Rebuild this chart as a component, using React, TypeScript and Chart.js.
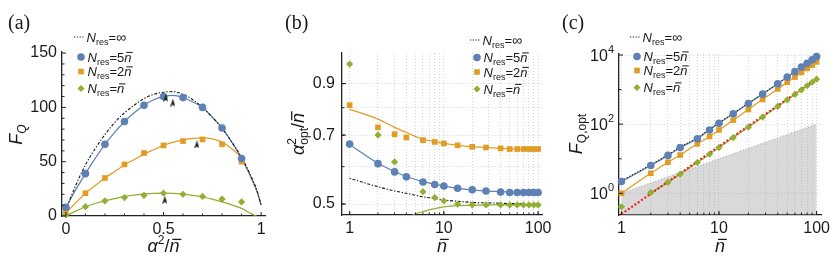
import React, { useEffect, useRef } from 'react';
import { Chart, registerables } from 'chart.js';
Chart.register(...registerables);

const BLUE = '#5E81B5';
const ORANGE = '#E19C24';
const GREEN = '#8FB032';
const BLACK = '#1a1a1a';
const RED = '#E8231E';
const AX = '#222222';
const TXT = '#1a1a1a';
const GRID = '#d4d4d4';
const SANS = '"Liberation Sans", Arial, sans-serif';
const SERIF = '"Liberation Serif", "DejaVu Serif", serif';

// ---------- Panel (a) ----------
const aPointX = [0, 0.1, 0.2, 0.3, 0.4, 0.5, 0.6, 0.7, 0.8, 0.9];
const aBluePts = [8, 39, 66, 87, 102, 110, 109, 100, 81, 53];
const aOrangePts = [4.5, 21, 35, 47.5, 58, 65, 69, 70.5, 66, 50];
const aGreenPts = [1, 8.6, 14, 17, 19, 21, 20, 18, 15.6, 13];

const aCurveX = [0, 0.05, 0.1, 0.15, 0.2, 0.25, 0.3, 0.35, 0.4, 0.45, 0.5, 0.55, 0.6, 0.65, 0.7, 0.75, 0.8, 0.85, 0.9, 0.95, 0.98, 1];
const aInfCurve = [6, 28, 47, 62, 75, 86, 95, 102, 108, 112, 114, 114.5, 112, 107, 100, 91, 81, 68, 54, 36, 23, 10];
const aBlueCurve = [8, 24, 39, 53, 66, 77, 87, 95, 102, 107, 110, 111, 109, 105, 100, 91, 81, 68, 53, 35, 22, 10];
const aOrangeCurve = [3, 12, 21, 28, 35, 41, 47, 52, 57, 61, 65, 68, 70, 71.5, 72, 71, 68, 62, 53, 35, 22, 10];
const aGreenCurve = [0, 4.5, 8.5, 11.5, 14, 16, 18, 19.3, 20.3, 20.8, 21, 20.8, 20.2, 19, 17.5, 15.5, 13, 10.2, 7, 2.2, -0.6, -2];

const aArrowX = [0.512, 0.548, 0.671, 0.507];
const aArrowY = [109, 104.5, 66, 15];

const aXTicks = [0, 0.5, 1];
const aYTicks = [0, 50, 100, 150];

// ---------- Panel (b) ----------
const nVals = [1, 2, 3, 4, 6, 8, 10, 14, 20, 28, 40, 50, 60, 70, 80, 90, 100];
const bBluePts = [0.670, 0.609, 0.585, 0.571, 0.557, 0.550, 0.546, 0.540, 0.536, 0.533, 0.530, 0.529, 0.529, 0.529, 0.529, 0.529, 0.529];
const bOrangePts = [0.810, 0.727, 0.703, 0.692, 0.683, 0.677, 0.672, 0.666, 0.661, 0.659, 0.656, 0.654, 0.654, 0.654, 0.654, 0.654, 0.654];
const bGreenPts = [0.99, 0.700, 0.614, 0.570, 0.531, 0.516, 0.508, 0.500, 0.498, 0.498, 0.498, 0.498, 0.498, 0.498, 0.498, 0.498, 0.498];
const bBlueCurve = [0.668, 0.610, 0.586, 0.572, 0.558, 0.551, 0.546, 0.540, 0.536, 0.533, 0.531, 0.530, 0.529, 0.529, 0.529, 0.529, 0.529];
const bOrangeCurve = [0.794, 0.757, 0.727, 0.709, 0.686, 0.678, 0.672, 0.666, 0.661, 0.659, 0.656, 0.655, 0.654, 0.654, 0.654, 0.654, 0.654];
const bInfCurve = [0.567, 0.544, 0.533, 0.527, 0.518, 0.514, 0.510, 0.507, 0.504, 0.503, 0.502, 0.501, 0.501, 0.500, 0.500, 0.500, 0.500];
const bGreenCurveN = [4, 4.7, 6, 8, 10, 14, 20, 28, 40, 60, 100];
const bGreenCurve = [0.462, 0.474, 0.482, 0.489, 0.493, 0.496, 0.497, 0.498, 0.498, 0.498, 0.498];

const logGridN = [1, 2, 3, 4, 5, 6, 7, 8, 9, 10, 20, 30, 40, 50, 60, 70, 80, 90, 100];
const logLabelN = [1, 10, 100];
const bYGrid = [0.5, 0.6, 0.7, 0.8, 0.9];
const bYLabels = [0.5, 0.7, 0.9];

// ---------- Panel (c) ----------
const cBluePts = [2.2, 6.4, 12.5, 21, 38, 68, 106, 200, 395, 740, 1480, 2300, 3300, 4500, 5800, 7300, 9000];
const cOrangePts = [1.0, 3.8, 7.9, 12.8, 27, 44, 68, 131, 265, 520, 1050, 1630, 2300, 3150, 4100, 5100, 6300];
const cGreenPts = [0.41, 1.05, 2.1, 3.6, 7.8, 13.5, 21, 41, 82, 160, 325, 505, 725, 985, 1290, 1630, 2000];
const cInfCurve = [2.3, 6.7, 13, 22, 40, 71, 110, 205, 405, 755, 1500, 2330, 3330, 4540, 5850, 7350, 9050];
const cRedN = [1, 100];
const cRedLine = [0.25, 2050];
const cShotN = [1, 100];
const cShotLine = [1, 100];
const cYTicks = [1, 100, 10000];
const cYExp = ['0', '2', '4'];

// ---------- helpers ----------
type Seg = { t: string; s: number; it?: boolean; dy?: number; bar?: boolean; na?: boolean; fam?: string };
const fontOf = (g: Seg) => `${g.it ? 'italic ' : ''}${g.s}px ${g.fam || SANS}`;

function drawRich(ctx: CanvasRenderingContext2D, segs: Seg[], x: number, y: number, align: 'left' | 'center' | 'right') {
  let w = 0;
  for (const g of segs) {
    ctx.font = fontOf(g);
    if (!g.na) w += ctx.measureText(g.t).width;
  }
  let cx = align === 'center' ? x - w / 2 : align === 'right' ? x - w : x;
  ctx.textAlign = 'left';
  ctx.textBaseline = 'alphabetic';
  for (const g of segs) {
    ctx.font = fontOf(g);
    const m = ctx.measureText(g.t).width;
    const yy = y + (g.dy || 0);
    ctx.fillText(g.t, cx, yy);
    if (g.bar) {
      ctx.save();
      ctx.strokeStyle = ctx.fillStyle as string;
      ctx.lineWidth = Math.max(1, g.s / 14);
      const off = g.it ? g.s * 0.12 : 0;
      ctx.beginPath();
      ctx.moveTo(cx + off + g.s * 0.04, yy - g.s * 0.7);
      ctx.lineTo(cx + off + m - g.s * 0.02, yy - g.s * 0.7);
      ctx.stroke();
      ctx.restore();
    }
    if (!g.na) cx += m;
  }
}

function drawRotated(ctx: CanvasRenderingContext2D, segs: Seg[], cx: number, cy: number, size: number) {
  ctx.save();
  ctx.translate(cx, cy);
  ctx.rotate(-Math.PI / 2);
  drawRich(ctx, segs, 0, size * 0.35, 'center');
  ctx.restore();
}

const NBAR = (s: number): Seg => ({ t: 'n', s, it: true, bar: true });

function drawLegend(ctx: CanvasRenderingContext2D, mx: number, tx: number, rows: number[]) {
  ctx.save();
  ctx.fillStyle = TXT;
  ctx.strokeStyle = BLACK;
  ctx.lineWidth = 1.1;
  ctx.setLineDash([1.2, 1.6]);
  ctx.beginPath();
  ctx.moveTo(mx - 7, rows[0]);
  ctx.lineTo(mx + 3, rows[0]);
  ctx.stroke();
  ctx.setLineDash([]);
  ctx.fillStyle = BLUE;
  ctx.beginPath();
  ctx.arc(mx, rows[1], 3.8, 0, Math.PI * 2);
  ctx.fill();
  ctx.fillStyle = ORANGE;
  ctx.fillRect(mx - 2.8, rows[2] - 2.8, 5.6, 5.6);
  ctx.fillStyle = GREEN;
  ctx.beginPath();
  ctx.moveTo(mx - 3.5, rows[3]);
  ctx.lineTo(mx, rows[3] - 3.5);
  ctx.lineTo(mx + 3.5, rows[3]);
  ctx.lineTo(mx, rows[3] + 3.5);
  ctx.closePath();
  ctx.fill();
  ctx.fillStyle = TXT;
  const base: Seg[] = [{ t: 'N', s: 13, it: true }, { t: 'res', s: 9, dy: 3 }, { t: '=', s: 13 }];
  const suffixes: Seg[][] = [
    [{ t: '∞', s: 14 }],
    [{ t: '5', s: 13 }, NBAR(13)],
    [{ t: '2', s: 13 }, NBAR(13)],
    [NBAR(13)],
  ];
  rows.forEach((ry, i) => {
    drawRich(ctx, [...base, ...suffixes[i]], i === 0 ? tx - 1 : tx, ry + 4.5, 'left');
  });
  ctx.restore();
}

function drawTickMarks(chart: any, xTicks: number[], yTicks: number[], xMinor: number[] = [], yMinor: number[] = []) {
  const ctx = chart.ctx as CanvasRenderingContext2D;
  const { left, bottom } = chart.chartArea;
  const xs = chart.scales.x;
  const ys = chart.scales.y;
  ctx.save();
  ctx.strokeStyle = AX;
  ctx.lineWidth = 1;
  ctx.beginPath();
  xTicks.forEach((v) => { const p = xs.getPixelForValue(v); ctx.moveTo(p, bottom); ctx.lineTo(p, bottom - 4); });
  xMinor.forEach((v) => { const p = xs.getPixelForValue(v); ctx.moveTo(p, bottom); ctx.lineTo(p, bottom - 2.5); });
  yTicks.forEach((v) => { const p = ys.getPixelForValue(v); ctx.moveTo(left, p); ctx.lineTo(left + 4, p); });
  yMinor.forEach((v) => { const p = ys.getPixelForValue(v); ctx.moveTo(left, p); ctx.lineTo(left + 2.5, p); });
  ctx.stroke();
  ctx.restore();
}

function makeArrowImage(): HTMLCanvasElement {
  const c = document.createElement('canvas');
  c.width = 5;
  c.height = 8;
  const g = c.getContext('2d')!;
  g.fillStyle = BLACK;
  g.beginPath();
  g.moveTo(2.5, 0);
  g.lineTo(5, 8);
  g.lineTo(2.5, 6.2);
  g.lineTo(0, 8);
  g.closePath();
  g.fill();
  return c;
}

const pts = (xs: number[], ys: number[]) => xs.map((x, i) => ({ x, y: ys[i] }));

const lineDs = (label: string, data: any[], color: string, extra: any = {}) => ({
  label, data, borderColor: color, backgroundColor: color, borderWidth: 1.25, pointRadius: 0,
  cubicInterpolationMode: 'monotone', fill: false, order: 5, ...extra,
});

const pointDs = (label: string, data: any[], color: string, style: string, radius: number) => ({
  label, data, showLine: false, pointStyle: style, pointRadius: radius, pointBackgroundColor: color,
  pointBorderWidth: 0, pointBorderColor: color, borderColor: color, backgroundColor: color, order: 1, clip: false,
});

const R_CIRC = 3.8;
const R_RECT = 4;
const R_DIAM = 3.6;

const tickFont = { family: SANS, size: 16 };

const commonOpts = (padding: any) => ({
  animation: false,
  responsive: false,
  devicePixelRatio: 1,
  events: [],
  layout: { padding },
  plugins: { legend: { display: false }, tooltip: { enabled: false } },
});

const fitX = (h: number) => (s: any) => { s.height = h; s.paddingLeft = 0; s.paddingRight = 0; };
const fitY = (w: number) => (s: any) => { s.width = w; s.paddingTop = 0; s.paddingBottom = 0; };
const setTicks = (vals: number[]) => (s: any) => { s.ticks = vals.map((v) => ({ value: v })); };
const near = (arr: number[], v: number) => arr.some((t) => Math.abs(t - v) < 1e-9 * Math.max(1, Math.abs(t)));

const gridOpts = { display: true, color: GRID, lineWidth: 1, drawTicks: false };
const borderOpts = { display: true, color: AX, width: 1.3, dash: [1, 2] };

// ---------- configs ----------
function makeA(): any {
  const arrow = makeArrowImage();
  return {
    type: 'line',
    data: {
      datasets: [
        pointDs('blue pts', pts(aPointX, aBluePts), BLUE, 'circle', R_CIRC),
        pointDs('orange pts', pts(aPointX, aOrangePts), ORANGE, 'rect', R_RECT),
        pointDs('green pts', pts(aPointX, aGreenPts), GREEN, 'rectRot', R_DIAM),
        { label: 'arrows', data: pts(aArrowX, aArrowY), showLine: false, pointStyle: arrow, pointRadius: 4, order: 0, clip: false },
        lineDs('inf', pts(aCurveX, aInfCurve), BLACK, { borderDash: [1.3, 1.7, 3, 1.7], borderWidth: 1.1, order: 4 }),
        lineDs('blue', pts(aCurveX, aBlueCurve), BLUE),
        lineDs('orange', pts(aCurveX, aOrangeCurve), ORANGE),
        lineDs('green', pts(aCurveX, aGreenCurve), GREEN),
      ],
    },
    options: {
      ...commonOpts({ left: 20, right: 15, top: 52, bottom: 0 }),
      scales: {
        x: {
          type: 'linear', min: -0.02, max: 1.02,
          afterBuildTicks: setTicks(aXTicks), afterFit: fitX(40),
          grid: { display: false, drawTicks: false },
          border: { display: true, color: AX, width: 1.3 },
          ticks: { autoSkip: false, maxRotation: 0, padding: 4, font: tickFont, color: TXT, callback: (v: number) => String(v) },
        },
        y: {
          type: 'linear', min: 0, max: 151,
          afterBuildTicks: setTicks(aYTicks), afterFit: fitY(42),
          grid: { display: false, drawTicks: false },
          border: { display: true, color: AX, width: 1.3 },
          ticks: { autoSkip: false, padding: 5, font: tickFont, color: TXT, callback: (v: number) => String(v) },
        },
      },
    },
    plugins: [{
      id: 'decorA',
      afterDraw(chart: any) {
        const ctx = chart.ctx as CanvasRenderingContext2D;
        drawTickMarks(chart, aXTicks, aYTicks, [0.1, 0.2, 0.3, 0.4, 0.6, 0.7, 0.8, 0.9], [10, 20, 30, 40, 60, 70, 80, 90, 110, 120, 130, 140]);
        ctx.save();
        ctx.fillStyle = TXT;
        ctx.font = `20px ${SERIF}`;
        ctx.textBaseline = 'alphabetic';
        ctx.textAlign = 'left';
        ctx.fillText('(a)', 8, 29);
        drawRotated(ctx, [{ t: 'F', s: 18, it: true }, { t: 'Q', s: 12, it: true, dy: 4 }], 16, 134.5, 18);
        drawRich(ctx, [{ t: 'α', s: 18, it: true }, { t: '2', s: 12, dy: -8 }, { t: '/', s: 18 }, NBAR(18)], 163.5, 252, 'center');
        drawLegend(ctx, 81, 87.5, [37, 57, 71.5, 88.5]);
        ctx.restore();
      },
    }],
  };
}

function makeB(): any {
  return {
    type: 'line',
    data: {
      datasets: [
        pointDs('blue pts', pts(nVals, bBluePts), BLUE, 'circle', R_CIRC),
        pointDs('orange pts', pts(nVals, bOrangePts), ORANGE, 'rect', R_RECT),
        pointDs('green pts', pts(nVals, bGreenPts), GREEN, 'rectRot', R_DIAM),
        lineDs('inf', pts(nVals, bInfCurve), BLACK, { borderDash: [1.3, 1.7, 3, 1.7], borderWidth: 1.1, order: 4 }),
        lineDs('blue', pts(nVals, bBlueCurve), BLUE),
        lineDs('orange', pts(nVals, bOrangeCurve), ORANGE),
        lineDs('green', pts(bGreenCurveN, bGreenCurve), GREEN),
      ],
    },
    options: {
      ...commonOpts({ left: 20, right: 13, top: 53, bottom: 0 }),
      scales: {
        x: {
          type: 'logarithmic', min: 0.83, max: 110,
          afterBuildTicks: setTicks(logGridN), afterFit: fitX(41),
          grid: gridOpts, border: borderOpts,
          ticks: { autoSkip: false, maxRotation: 0, padding: 4, font: tickFont, color: TXT, callback: (v: number) => (near(logLabelN, v) ? String(v) : '') },
        },
        y: {
          type: 'logarithmic', min: 0.474, max: 1.045,
          afterBuildTicks: setTicks(bYGrid), afterFit: fitY(42),
          grid: gridOpts, border: borderOpts,
          ticks: { autoSkip: false, padding: 7, font: tickFont, color: TXT, callback: (v: number) => (near(bYLabels, v) ? v.toFixed(1) : '') },
        },
      },
    },
    plugins: [{
      id: 'decorB',
      afterDraw(chart: any) {
        const ctx = chart.ctx as CanvasRenderingContext2D;
        drawTickMarks(chart, logLabelN, bYLabels, logGridN, bYGrid);
        ctx.save();
        ctx.fillStyle = TXT;
        ctx.font = `20px ${SERIF}`;
        ctx.textBaseline = 'alphabetic';
        ctx.textAlign = 'left';
        ctx.fillText('(b)', 5, 29);
        drawRotated(ctx, [
          { t: 'α', s: 18, it: true }, { t: '2', s: 12, dy: -8, na: true }, { t: 'opt', s: 12, dy: 4 },
          { t: '/', s: 18 }, NBAR(18),
        ], 18, 134, 18);
        drawRich(ctx, [NBAR(18)], 162, 252, 'center');
        drawLegend(ctx, 197, 203.5, [40, 57.5, 72, 89]);
        ctx.restore();
      },
    }],
  };
}

function makeC(): any {
  return {
    type: 'line',
    data: {
      datasets: [
        pointDs('blue pts', pts(nVals, cBluePts), BLUE, 'circle', R_CIRC),
        pointDs('orange pts', pts(nVals, cOrangePts), ORANGE, 'rect', R_RECT),
        pointDs('green pts', pts(nVals, cGreenPts), GREEN, 'rectRot', R_DIAM),
        lineDs('red', pts(cRedN, cRedLine), RED, { borderDash: [2, 2], borderWidth: 2.2, order: 2, cubicInterpolationMode: 'default' }),
        lineDs('inf', pts(nVals, cInfCurve), BLACK, { borderDash: [1.3, 1.7], borderWidth: 1.1, order: 4 }),
        lineDs('blue', pts(nVals, cBluePts), BLUE),
        lineDs('orange', pts(nVals, cOrangePts), ORANGE),
        lineDs('green', pts(nVals.slice(1), cGreenPts.slice(1)), GREEN),
        {
          label: 'shot', data: pts(cShotN, cShotLine), borderColor: '#9a9a9a', borderWidth: 1, borderDash: [1, 2],
          backgroundColor: 'rgba(160,160,160,0.40)', fill: 'start', pointRadius: 0, order: 9,
        },
      ],
    },
    options: {
      ...commonOpts({ left: 20, right: 9, top: 54, bottom: 0 }),
      scales: {
        x: {
          type: 'logarithmic', min: 0.945, max: 111,
          afterBuildTicks: setTicks(logGridN), afterFit: fitX(41),
          grid: gridOpts, border: borderOpts,
          ticks: { autoSkip: false, maxRotation: 0, padding: 4, font: tickFont, color: TXT, callback: (v: number) => (near(logLabelN, v) ? String(v) : '') },
        },
        y: {
          type: 'logarithmic', min: 0.236, max: 10700,
          afterBuildTicks: setTicks(cYTicks), afterFit: fitY(44),
          grid: gridOpts, border: borderOpts,
          ticks: { autoSkip: false, padding: 5, font: tickFont, color: TXT, callback: () => '' },
        },
      },
    },
    plugins: [{
      id: 'decorC',
      afterDraw(chart: any) {
        const ctx = chart.ctx as CanvasRenderingContext2D;
        drawTickMarks(chart, logLabelN, cYTicks, logGridN, [10, 1000]);
        ctx.save();
        ctx.fillStyle = TXT;
        ctx.font = `20px ${SERIF}`;
        ctx.textBaseline = 'alphabetic';
        ctx.textAlign = 'left';
        ctx.fillText('(c)', 7, 29);
        const ys = chart.scales.y;
        const left = chart.chartArea.left;
        cYTicks.forEach((v, i) => {
          const py = ys.getPixelForValue(v);
          drawRich(ctx, [{ t: '10', s: 16 }, { t: cYExp[i], s: 11, dy: -8 }], left - 5, py + 6, 'right');
        });
        drawRotated(ctx, [{ t: 'F', s: 18, it: true }, { t: 'Q,opt', s: 12, dy: 4 }], 21, 134, 18);
        drawRich(ctx, [NBAR(18)], 165, 252, 'center');
        drawLegend(ctx, 82, 88.5, [37, 56.5, 70.5, 87.5]);
        ctx.restore();
      },
    }],
  };
}

function ChartBox({ left, width, make }: { left: number; width: number; make: () => any }) {
  const ref = useRef<HTMLCanvasElement>(null);
  useEffect(() => {
    const chart = new Chart(ref.current as HTMLCanvasElement, make());
    return () => chart.destroy();
  }, []);
  return (
    <canvas
      ref={ref}
      width={width}
      height={256}
      style={{ position: 'absolute', left, top: 0, width, height: 256, display: 'block' }}
    />
  );
}

export default function App() {
  return (
    <div style={{ position: 'absolute', left: 0, top: 0, width: 830, height: 256, background: '#ffffff', overflow: 'hidden' }}>
      <ChartBox left={0} width={280} make={makeA} />
      <ChartBox left={280} width={275} make={makeB} />
      <ChartBox left={555} width={275} make={makeC} />
    </div>
  );
}
